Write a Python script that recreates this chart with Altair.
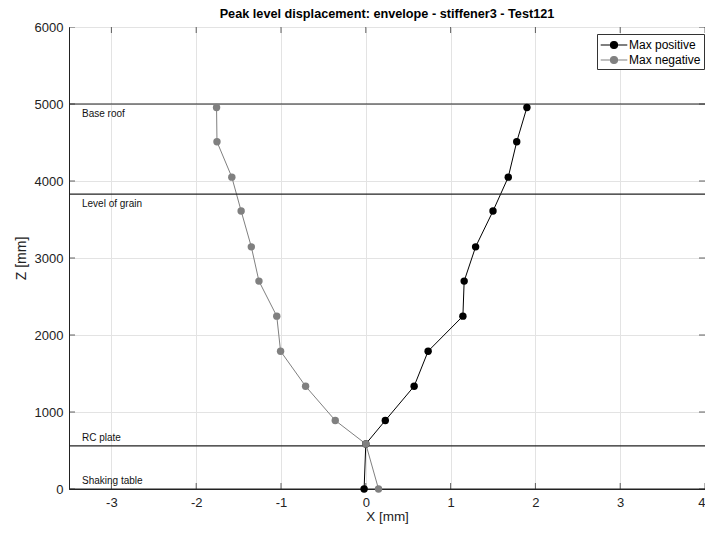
import altair as alt
import pandas as pd

TITLE = "Peak level displacement: envelope - stiffener3 - Test121"

# measured floors (Z, mm)
z_levels = [0, 585, 890, 1335, 1790, 2245, 2700, 3145, 3610, 4050, 4510, 4955]
x_pos = [-0.02, 0.0, 0.23, 0.57, 0.735, 1.145, 1.16, 1.295, 1.50, 1.68, 1.78, 1.90]
x_neg = [0.15, 0.0, -0.36, -0.71, -1.005, -1.05, -1.26, -1.35, -1.47, -1.58, -1.755, -1.76]

series_names = ["Max positive", "Max negative"]
series_colors = ["#000000", "#808080"]

level_names = ["Base roof", "Level of grain", "RC plate", "Shaking table"]
level_z = [5000, 3830, 560, 0]
level_side = ["below", "below", "above", "above"]

x_ticks = [-3, -2, -1, 0, 1, 2, 3, 4]
y_ticks = [0, 1000, 2000, 3000, 4000, 5000, 6000]

W, H = 636, 462
FONT = "Liberation Sans"

rows = []
for z, xp, xn in zip(z_levels, x_pos, x_neg):
    rows.append({"series": series_names[0], "x": xp, "z": z})
    rows.append({"series": series_names[1], "x": xn, "z": z})
df = pd.DataFrame(rows)

lev = pd.DataFrame({"name": level_names, "z": level_z, "side": level_side})
xt = pd.DataFrame({"v": x_ticks})
yt = pd.DataFrame({"v": y_ticks})

xscale = alt.Scale(domain=[-3.5, 4], nice=False, zero=False)
yscale = alt.Scale(domain=[0, 6000], nice=False, zero=False)
cscale = alt.Scale(domain=series_names, range=series_colors)

X = alt.X("x:Q", scale=xscale, title="X [mm]",
          axis=alt.Axis(values=x_ticks, labelExpr="datum.value + ''"))
Y = alt.Y("z:Q", scale=yscale, title="Z [mm]",
          axis=alt.Axis(values=y_ticks, labelExpr="datum.value + ''"))

legend_path = "M-1.9,0L-0.5,0A0.5,0.5,0,1,1,0.5,0A0.5,0.5,0,1,1,-0.5,0M0.5,0L1.9,0"
LEG = alt.Legend(
    title=None, orient="none", legendX=528, legendY=7,
    symbolType=legend_path, symbolSize=196, symbolStrokeWidth=1.2,
    symbolOffset=6,
    labelFontSize=12, labelFont=FONT, labelColor="black",
    strokeColor="#333333", fillColor="white",
    padding=3, rowPadding=1, labelOffset=7,
)

base = alt.Chart(df)

lines = base.mark_line(strokeWidth=1, clip=True).encode(
    x=X, y=Y,
    color=alt.Color("series:N", scale=cscale, legend=LEG),
    order="z:Q",
    detail="series:N",
)

points = base.mark_point(filled=True, size=55, opacity=1).encode(
    x="x:Q", y="z:Q",
    color=alt.Color("series:N", scale=cscale, legend=LEG),
)

level_rules = alt.Chart(lev).mark_rule(color="#222222", strokeWidth=1.2).encode(
    y=alt.Y("z:Q", scale=yscale),
)

lab_below = alt.Chart(lev).transform_filter(alt.datum.side == "below").mark_text(
    align="left", baseline="top", dy=5, fontSize=10, font=FONT, color="#111111"
).encode(x=alt.value(13), y=alt.Y("z:Q", scale=yscale), text="name:N")

lab_above = alt.Chart(lev).transform_filter(alt.datum.side == "above").mark_text(
    align="left", baseline="bottom", dy=-3, fontSize=10, font=FONT, color="#111111"
).encode(x=alt.value(13), y=alt.Y("z:Q", scale=yscale), text="name:N")

TK = dict(size=12, thickness=1, color="#222222", clip=True)
xt_bottom = alt.Chart(xt).mark_tick(orient="vertical", **TK).encode(
    x=alt.X("v:Q", scale=xscale), y=alt.value(H))
xt_top = alt.Chart(xt).mark_tick(orient="vertical", **TK).encode(
    x=alt.X("v:Q", scale=xscale), y=alt.value(0))
yt_left = alt.Chart(yt).mark_tick(orient="horizontal", **TK).encode(
    y=alt.Y("v:Q", scale=yscale), x=alt.value(0))
yt_right = alt.Chart(yt).mark_tick(orient="horizontal", **TK).encode(
    y=alt.Y("v:Q", scale=yscale), x=alt.value(W))

chart = alt.layer(
    lines, xt_bottom, xt_top, yt_left, yt_right,
    level_rules, lab_below, lab_above, points,
).properties(
    width=W, height=H,
    title=alt.Title(TITLE, fontSize=12.7, font=FONT, fontWeight="bold",
                    anchor="middle", offset=0, dy=0, color="black"),
    autosize=alt.AutoSizeParams(type="none"),
    padding={"left": 61, "top": 19, "right": 0, "bottom": 37},
).configure_view(
    stroke="#222222", strokeWidth=1,
).configure_axis(
    grid=True, gridColor="#e3e3e3", gridWidth=1,
    domainColor="#222222", domainWidth=1,
    ticks=False, labelFont=FONT, labelFontSize=13, labelColor="#222222",
    titleFont=FONT, titleFontSize=14, titleFontWeight="normal", titleColor="#222222",
).configure_axisX(
    labelPadding=7, titlePadding=0, titleFontSize=13.5,
).configure_axisY(
    labelPadding=6, titlePadding=6,
)

chart.save("out.html", embed_options={"renderer": "svg", "actions": False})
